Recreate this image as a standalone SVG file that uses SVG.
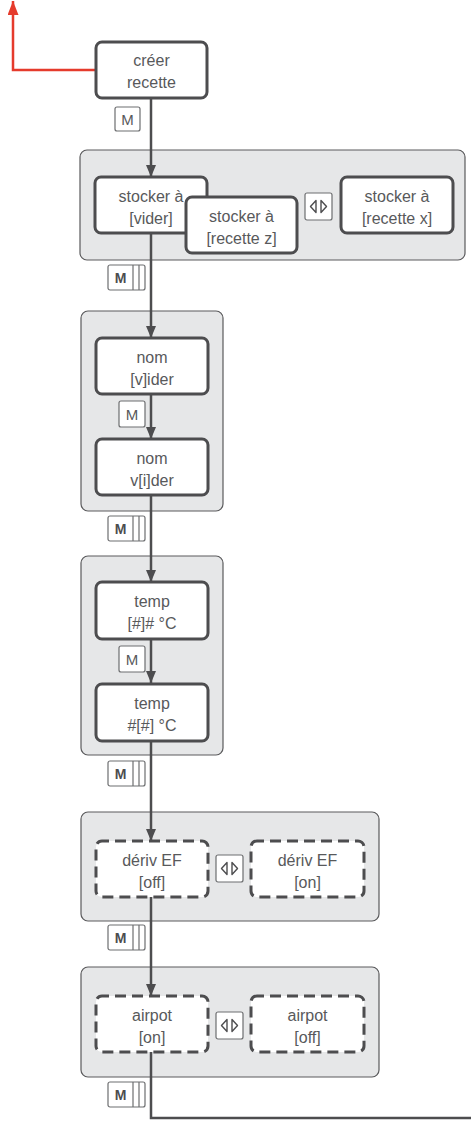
<svg xmlns="http://www.w3.org/2000/svg" width="471" height="1123" viewBox="0 0 471 1123">
<style>
.panel{fill:#e6e7e8;stroke:#5a5a5c;stroke-width:1.2}
.node{fill:#fff;stroke:#4d4d4f;stroke-width:3}
.dash{fill:#fff;stroke:#4d4d4f;stroke-width:3;stroke-dasharray:11 6;stroke-dashoffset:4}
.conn{fill:none;stroke:#4d4d4f;stroke-width:2.5}
.t{font-family:"Liberation Sans",Arial,sans-serif;font-size:16px;fill:#58595b;text-anchor:middle}
.key{fill:#fff;stroke:#6d6e70;stroke-width:1.2}
.kl{fill:none;stroke:#6d6e70;stroke-width:1.2}
.mt{font-family:"Liberation Sans",Arial,sans-serif;font-size:15px;fill:#58595b;text-anchor:middle}
.mb{font-family:"Liberation Sans",Arial,sans-serif;font-size:14px;font-weight:bold;fill:#4d4d4f;text-anchor:middle}
.tri{fill:none;stroke:#4d4d4f;stroke-width:1.4;stroke-linejoin:round}
</style>
<defs>
<marker id="ah" viewBox="0 0 12 10" refX="12" refY="5" markerWidth="12" markerHeight="10" markerUnits="userSpaceOnUse" orient="auto">
<path d="M0,0 L12,5 L0,10 Z" fill="#4d4d4f"/>
</marker>
<marker id="ahr" viewBox="0 0 14 11" refX="14" refY="5.5" markerWidth="14" markerHeight="11" markerUnits="userSpaceOnUse" orient="auto">
<path d="M0,0 L14,5.5 L0,11 Z" fill="#e53b2c"/>
</marker>
<g id="mkey">
<rect class="key" x="0" y="0" width="37" height="25" rx="2"/>
<line class="kl" x1="25" y1="0" x2="25" y2="25"/>
<line class="kl" x1="31" y1="0" x2="31" y2="25"/>
<text class="mb" x="12.5" y="18">M</text>
</g>
<g id="arrows">
<rect class="key" x="0" y="0" width="27" height="27" rx="2"/>
<path class="tri" d="M11,7.5 L5.5,13.5 L11,19.5 Z"/>
<path class="tri" d="M16,7.5 L21.5,13.5 L16,19.5 Z"/>
</g>
</defs>

<g id="panels">
<rect id="panel1" class="panel" x="80" y="150" width="385" height="110" rx="7"/>
<rect id="panel2" class="panel" x="81" y="311" width="142" height="200" rx="7"/>
<rect id="panel3" class="panel" x="81" y="556" width="142" height="199" rx="7"/>
<rect id="panel4" class="panel" x="81" y="812" width="298" height="109" rx="7"/>
<rect id="panel5" class="panel" x="81" y="967" width="298" height="110" rx="7"/>
</g>

<g id="connectors">
<path class="conn" d="M96,70 H13 V1" style="stroke:#e53b2c" marker-end="url(#ahr)"/>
<path class="conn" d="M151,99 V177" marker-end="url(#ah)"/>
<path class="conn" d="M151,233 V338" marker-end="url(#ah)"/>
<path class="conn" d="M151,394 V439" marker-end="url(#ah)"/>
<path class="conn" d="M151,495 V582" marker-end="url(#ah)"/>
<path class="conn" d="M151,639 V683" marker-end="url(#ah)"/>
<path class="conn" d="M151,741 V841" marker-end="url(#ah)"/>
<path class="conn" d="M151,897 V996" marker-end="url(#ah)"/>
<path class="conn" d="M151,1052 V1118 H471"/>
</g>

<g id="labels">
<g id="m0"><rect class="key" x="115" y="107" width="25" height="24" rx="2"/><text class="mt" x="127.5" y="125">M</text></g>
<use id="m1" href="#mkey" x="108" y="265"/>
<g id="m2"><rect class="key" x="119" y="401" width="26" height="26" rx="2"/><text class="mt" x="132" y="420">M</text></g>
<use id="m3" href="#mkey" x="108" y="516"/>
<g id="m4"><rect class="key" x="119" y="646" width="26" height="26" rx="2"/><text class="mt" x="132" y="665">M</text></g>
<use id="m5" href="#mkey" x="108" y="761"/>
<use id="m6" href="#mkey" x="108" y="925"/>
<use id="m7" href="#mkey" x="108" y="1082"/>
<use id="lr1" href="#arrows" x="305" y="193"/>
<use id="lr2" href="#arrows" x="216" y="855"/>
<use id="lr3" href="#arrows" x="216" y="1012"/>
</g>

<g id="n-creer">
<rect class="node" x="96" y="42" width="111" height="56" rx="6"/>
<text class="t" x="151.5" y="66">créer</text>
<text class="t" x="151.5" y="88">recette</text>
</g>
<g id="n-vider">
<rect class="node" x="95" y="177" width="112" height="56" rx="6"/>
<text class="t" x="151" y="202">stocker à</text>
<text class="t" x="151" y="224">[vider]</text>
</g>
<g id="n-recz">
<rect class="node" x="186" y="197" width="111" height="56" rx="6"/>
<text class="t" x="241.5" y="222">stocker à</text>
<text class="t" x="241.5" y="244">[recette z]</text>
</g>
<g id="n-recx">
<rect class="node" x="341" y="177" width="112" height="56" rx="6"/>
<text class="t" x="397" y="202">stocker à</text>
<text class="t" x="397" y="224">[recette x]</text>
</g>
<g id="n-nom1">
<rect class="node" x="96" y="338" width="112" height="56" rx="6"/>
<text class="t" x="152" y="363">nom</text>
<text class="t" x="152" y="385">[v]ider</text>
</g>
<g id="n-nom2">
<rect class="node" x="96" y="439" width="112" height="56" rx="6"/>
<text class="t" x="152" y="464">nom</text>
<text class="t" x="152" y="486">v[i]der</text>
</g>
<g id="n-temp1">
<rect class="node" x="96" y="582" width="112" height="57" rx="6"/>
<text class="t" x="152" y="607">temp</text>
<text class="t" x="152" y="629">[#]# °C</text>
</g>
<g id="n-temp2">
<rect class="node" x="96" y="684" width="112" height="57" rx="6"/>
<text class="t" x="152" y="709">temp</text>
<text class="t" x="152" y="731">#[#] °C</text>
</g>
<g id="n-deriv-off">
<rect class="dash" x="96" y="841" width="112" height="56" rx="6"/>
<text class="t" x="152" y="866">dériv EF</text>
<text class="t" x="152" y="888">[off]</text>
</g>
<g id="n-deriv-on">
<rect class="dash" x="251" y="841" width="113" height="56" rx="6"/>
<text class="t" x="307.5" y="866">dériv EF</text>
<text class="t" x="307.5" y="888">[on]</text>
</g>
<g id="n-airpot-on">
<rect class="dash" x="96" y="996" width="112" height="56" rx="6"/>
<text class="t" x="152" y="1021">airpot</text>
<text class="t" x="152" y="1043">[on]</text>
</g>
<g id="n-airpot-off">
<rect class="dash" x="251" y="996" width="113" height="56" rx="6"/>
<text class="t" x="307.5" y="1021">airpot</text>
<text class="t" x="307.5" y="1043">[off]</text>
</g>
</svg>
